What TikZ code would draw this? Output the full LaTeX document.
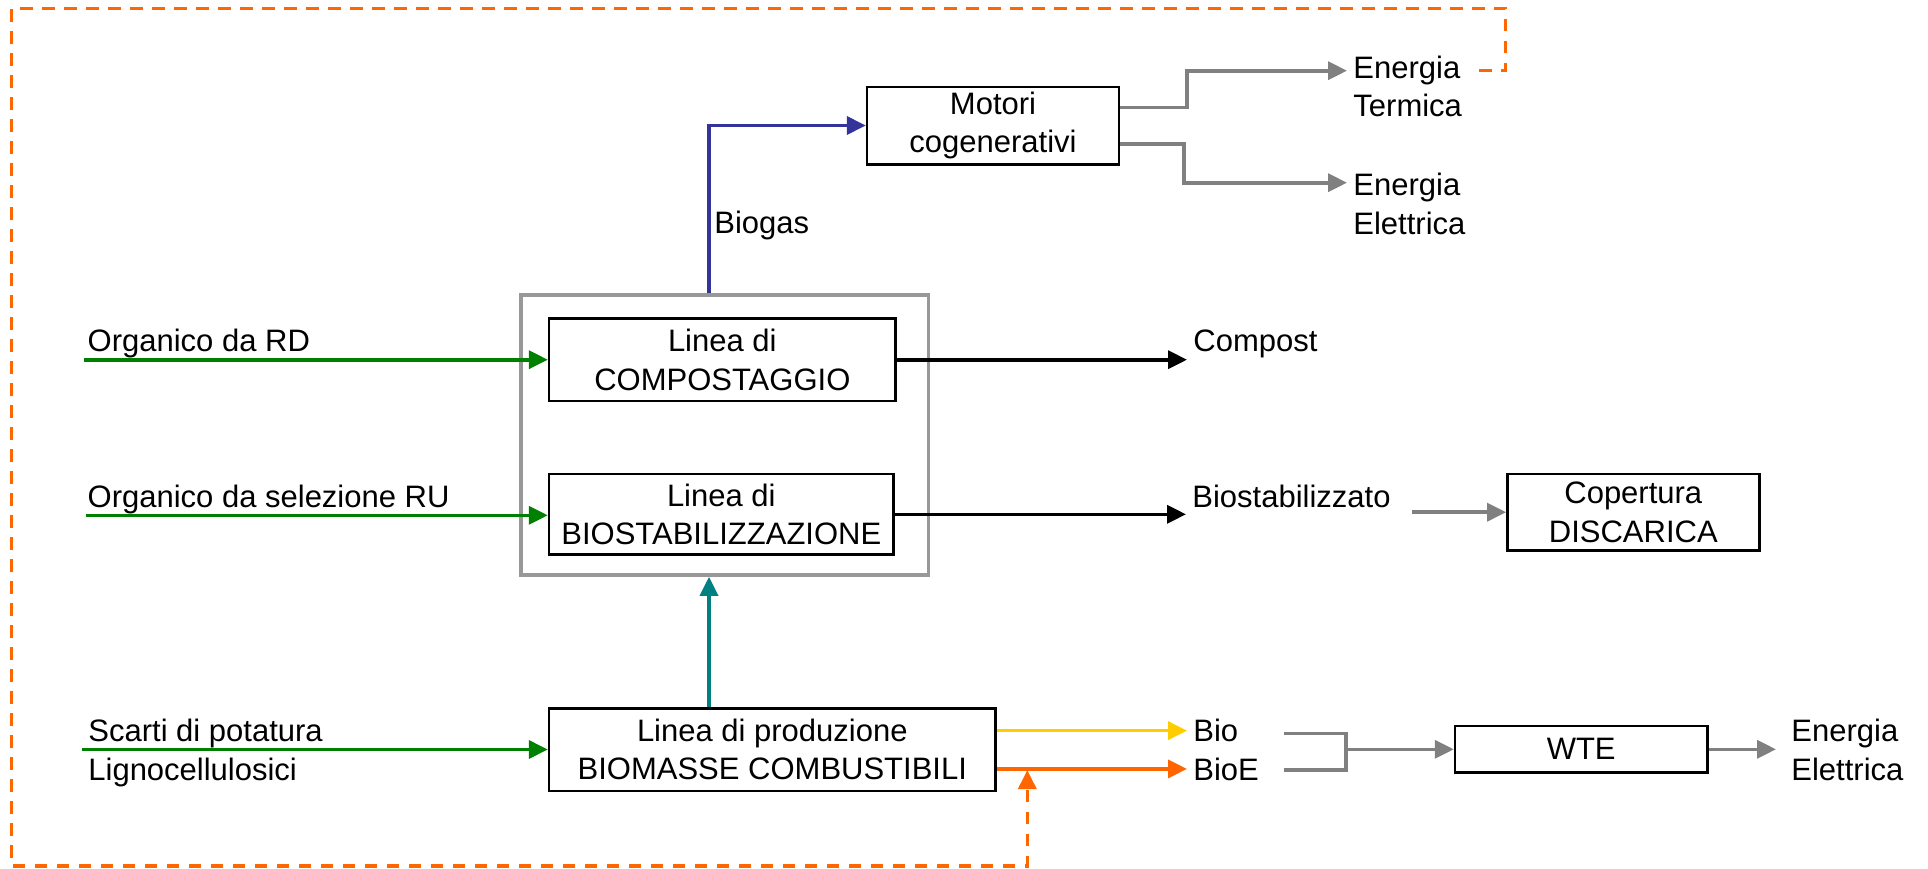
\documentclass[tikz,border=0pt]{standalone}
\usepackage{fontspec}
\setmainfont{Liberation Sans}
\usetikzlibrary{arrows.meta,calc}
\definecolor{verde}{RGB}{0,128,0}
\definecolor{blugas}{RGB}{51,51,153}
\definecolor{ottanio}{RGB}{0,128,128}
\definecolor{arancio}{RGB}{255,102,0}
\definecolor{giallo}{RGB}{255,204,0}
\definecolor{grigio}{RGB}{128,128,128}
\definecolor{cornicegr}{RGB}{152,152,152}
\tikzset{
  blocco/.style={draw, line width=1.2pt, align=center, inner sep=0pt},
  cornice/.style={draw=cornicegr, line width=1.8pt, inner sep=0pt},
  etichetta/.style={inner xsep=3pt, inner ysep=0pt},
  punta/.style={-{Triangle[length=9.5pt,width=9pt]}},
  flusso/.style={line width=1.8pt, punta},
  ingresso/.style={flusso, verde},
  uscita/.style={flusso, black},
  grigioline/.style={line width=1.8pt, grigio},
  grigiofreccia/.style={flusso, grigio},
  ritorno/.style={line width=1.6pt, arancio, dash pattern=on 6.25pt off 4.75pt, punta}
}
\begin{document}
\begin{tikzpicture}[x=0.5pt,y=-0.5pt,font=\fontsize{15.5}{19.3}\selectfont]
\useasboundingbox (0,0) rectangle (1928,868);

% blocchi
\node[cornice, minimum width=203.7pt, minimum height=140pt] (impianto) at (724.7,435) {};
\node[blocco, minimum width=126pt, minimum height=38.8pt] (motori) at (993,125.5) {Motori\\cogenerativi};
\node[blocco, minimum width=173.3pt, minimum height=41.3pt] (comp) at (722.3,359.7) {Linea di\\COMPOSTAGGIO};
\node[blocco, minimum width=172.3pt, minimum height=40.3pt] (biostab) at (721.3,514.3) {Linea di\\BIOSTABILIZZAZIONE};
\node[blocco, minimum width=223.3pt, minimum height=41.2pt] (biomasse) at (772.3,749.5) {Linea di produzione\\BIOMASSE COMBUSTIBILI};
\node[blocco, minimum width=126pt, minimum height=38.2pt] (copertura) at (1633.3,512.2) {Copertura\\DISCARICA};
\node[blocco, minimum width=126.2pt, minimum height=23.3pt] (wte) at (1581.2,749.3) {WTE};

% etichette
\node[etichetta, anchor=base west] (orgRD) at (81.3,351.7) {Organico da RD};
\node[etichetta, anchor=base west] (orgRU) at (81.3,507.3) {Organico da selezione RU};
\node[etichetta, anchor=west, align=left] (scarti) at (82,752.8) {Scarti di potatura\\Lignocellulosici};
\node[etichetta, anchor=base west] (biogas) at (708,233.3) {Biogas};
\node[etichetta, anchor=base west] (compost) at (1187,351.7) {Compost};
\node[etichetta, anchor=base west] (biostablab) at (1186,507.8) {Biostabilizzato};
\node[etichetta, anchor=base west] (bio) at (1187,741.7) {Bio};
\node[etichetta, anchor=base west] (bioe) at (1187,780) {BioE};
\node[etichetta, anchor=west, align=left] (eterm) at (1347,86.5) {Energia\\Termica};
\node[etichetta, anchor=west, align=left] (eelet) at (1347,203.9) {Energia\\Elettrica};
\node[etichetta, anchor=west, align=left] (eel2) at (1785,749.9) {Energia\\Elettrica};

% estremi liberi
\coordinate (inRD) at (84,359.7);
\coordinate (inRU) at (86,515.3);
\coordinate (inPot) at (82,749.5);
\coordinate (asse) at (709,0);
\coordinate (ret) at (1479,70.7);
\coordinate (rientro) at (1027.3,770);
\coordinate (bioend) at (1284,733.3);
\coordinate (bioeend) at (1284,770);
\coordinate (nodo) at (1345.7,749.3);

\foreach \src/\dst in {inRD/comp, inRU/biostab, inPot/biomasse}
  \draw[ingresso] (\src) -- (\src -| \dst.west);

\draw[flusso, blugas] (impianto.north -| asse) |- (motori.west);
\draw[flusso, ottanio] (biomasse.north -| asse) -- (impianto.south -| asse);
\draw[uscita] (comp.east) -- (comp.east -| compost.west);
\draw[uscita] (biostab.east) -- (biostab.east -| biostablab.west);
\draw[grigiofreccia] ($(motori.east)+(0,-18.2)$) -- ++(67,0) |- ($(eterm.west)+(0,-15.8)$);
\draw[grigiofreccia] ($(motori.east)+(0,18.5)$) -- ++(64,0) |- ($(eelet.west)+(0,-21.2)$);
\draw[grigiofreccia] ($(copertura.west)+(-94,0)$) -- (copertura.west);
\draw[flusso, giallo] (biomasse.east |- bio.west) -- (bio.west);
\draw[flusso, arancio] (biomasse.east |- bioe.west) -- (bioe.west);
\draw[grigioline] (bioend) -| (nodo) |- (bioeend);
\draw[grigiofreccia] (nodo) -- (wte.west);
\draw[grigiofreccia, shorten >=4.5pt] (wte.east) -- (wte.east -| eel2.west);
\draw[ritorno] (ret) -| (1505.7,8.3) -| (11.7,866) -| (rientro);
\end{tikzpicture}
\end{document}
